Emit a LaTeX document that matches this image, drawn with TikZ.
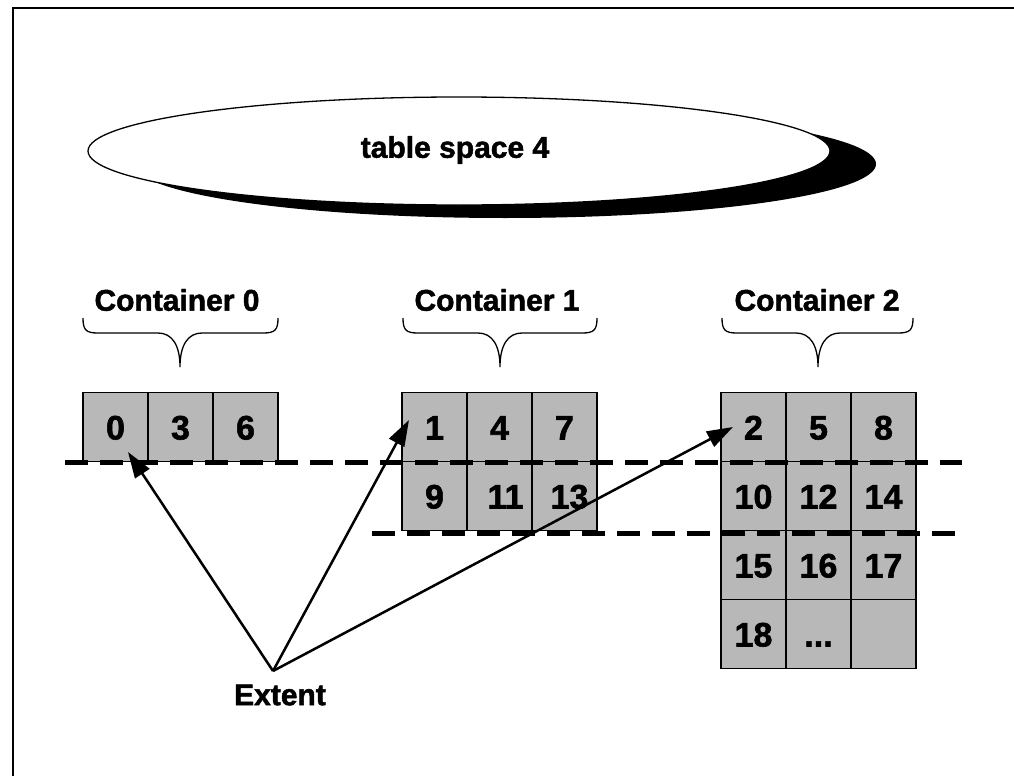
\documentclass[tikz,border=0pt]{standalone}
\usepackage{fontspec}
\setmainfont{Liberation Sans}[BoldFeatures={FakeBold=1.6}]
\usetikzlibrary{arrows.meta}
\tikzset{
  lbl/.style={font=\fontsize{30}{32}\selectfont\bfseries, inner sep=0pt},
  cell/.style={draw=black, line width=1.5pt, fill=black!28, minimum width=65pt, minimum height=69pt,
     inner sep=0pt, text height=25pt, text depth=0pt, font=\fontsize{34}{36}\selectfont\bfseries},
  bracepath/.style={line width=1.3pt},
  dashline/.style={line width=5pt, dash pattern=on 23pt off 12pt},
  arr/.style={line width=2.5pt, -{Triangle[length=26pt,width=17pt]}},
}
\begin{document}
\begin{tikzpicture}[x=1pt,y=-1pt]
\useasboundingbox (0,0) rectangle (1014,776);
% frame
\draw[line width=2pt] (12.5,776) -- (12.5,8.5) -- (1014,8.5);
% table space ellipse with shadow
\fill[black] (505,164) ellipse [x radius=371, y radius=54];
\draw[line width=1.3pt, fill=white] (459,151) ellipse [x radius=371, y radius=54];
\node[lbl] (ts) at (455,150) {table space 4};
% container labels
\node[lbl] (lc0) at (177,300) {Container 0};
\node[lbl] (lc1) at (497,300) {Container 1};
\node[lbl] (lc2) at (817,300) {Container 2};
% braces
\foreach \xl/\xm/\xr in {83/180/278, 403/500/597, 722/818/913}{
  \draw[bracepath] (\xl,318) .. controls (\xl,330) and (\xl+3,333) .. (\xl+15,333)
    -- (\xm-22,333) .. controls (\xm-8,333) and (\xm,345) .. (\xm,367)
    .. controls (\xm,345) and (\xm+8,333) .. (\xm+22,333)
    -- (\xr-15,333) .. controls (\xr-3,333) and (\xr,330) .. (\xr,318);
}
% container 0
\node[cell] (c0a) at (115.5,427) {0};
\node[cell] (c0b) at (180.5,427) {3};
\node[cell] (c0c) at (245.5,427) {6};
% container 1
\node[cell] (c1a) at (434.5,427) {1};
\node[cell] (c1b) at (499.5,427) {4};
\node[cell] (c1c) at (564.5,427) {7};
\node[cell] (c1d) at (434.5,496) {9};
\node[cell] (c1e) at (499.5,496) {\hspace*{12pt}11};
\node[cell] (c1f) at (564.5,496) {\hspace*{10pt}13};
% container 2
\node[cell] (c2a) at (753.5,427) {2};
\node[cell] (c2b) at (818.5,427) {5};
\node[cell] (c2c) at (883.5,427) {8};
\node[cell] (c2d) at (753.5,496) {10};
\node[cell] (c2e) at (818.5,496) {12};
\node[cell] (c2f) at (883.5,496) {14};
\node[cell] (c2g) at (753.5,565) {15};
\node[cell] (c2h) at (818.5,565) {16};
\node[cell] (c2i) at (883.5,565) {17};
\node[cell] (c2j) at (753.5,634) {18};
\node[cell] (c2k) at (818.5,634) {...};
\node[cell] (c2l) at (883.5,634) {};
% dashed extent boundaries
\coordinate (d1a) at (65,462);
\coordinate (d1b) at (962,462);
\coordinate (d2a) at (372,533);
\coordinate (d2b) at (962,533);
\draw[dashline] (d1a) -- (d1b);
\draw[dashline] (d2a) -- (d2b);
% extent arrows
\coordinate (ext) at (273,671);
\node[lbl] (extl) at (280,695) {Extent};
\coordinate (t0) at (128,452);
\coordinate (t1) at (409,420);
\coordinate (t2) at (733,427);
\draw[arr] (ext) -- (t0);
\draw[arr] (ext) -- (t1);
\draw[arr] (ext) -- (t2);
\end{tikzpicture}
\end{document}
